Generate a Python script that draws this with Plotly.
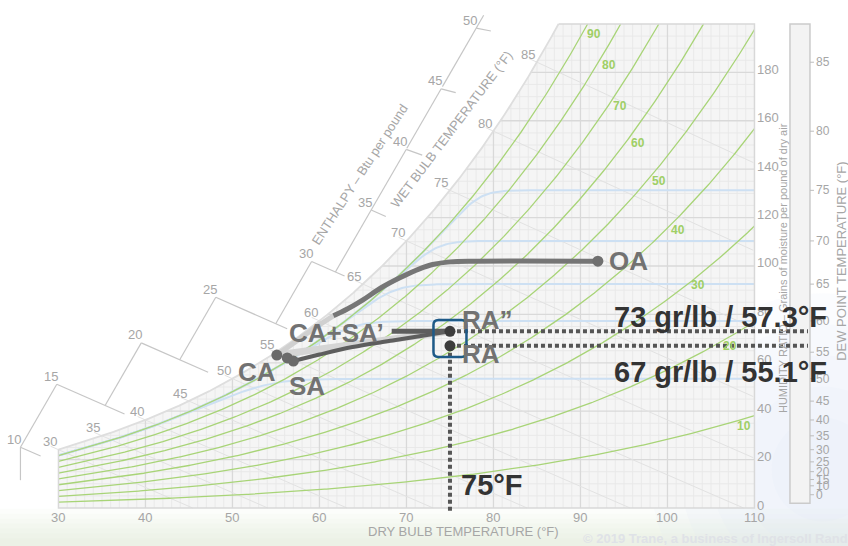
import numpy as np
import plotly.graph_objects as go

# ---------------- chart values ----------------
dry_bulb_ticks = [30, 40, 50, 60, 70, 80, 90, 100, 110]
grain_ticks = [0, 20, 40, 60, 80, 100, 120, 140, 160, 180]
dew_point_ticks = [0, 10, 15, 20, 25, 30, 35, 40, 45, 50, 55, 60, 65, 70, 75, 80, 85]
rh_percent = [10, 20, 30, 40, 50, 60, 70, 80, 90]
wet_bulb_ticks = [30, 35, 40, 45, 50, 55, 60, 65, 70, 75, 80, 85]
enthalpy_ticks = [10, 15, 20, 25, 30, 35, 40, 45, 50]
blue_dew_points = [50, 60, 65, 70, 75]

state_names = ["OA", "CA", "CA+SA’", "SA", "RA”", "RA"]
state_db = [92.0, 55.1, 56.3, 57.0, 75.0, 75.0]
state_gr = [102.0, 63.2, 62.0, 60.7, 73.0, 67.0]

oa_curve_db = [92.0, 78.0, 75.0, 73.0, 71.5, 69.3, 67.0, 65.0, 63.2, 61.6]
oa_curve_gr = [102.0, 102.0, 101.7, 100.6, 98.8, 95.2, 90.8, 86.0, 82.2, 79.4]
oa_fade_db = [61.6, 59.5, 57.3, 55.1]
oa_fade_gr = [79.4, 74.5, 68.8, 63.2]
sa_curve_db = [57.0, 60.0, 63.8, 68.4, 72.0, 75.0]
sa_curve_gr = [60.7, 63.4, 66.5, 69.2, 71.3, 73.0]

ra2_text = "73 gr/lb / 57.3°F"
ra_text = "67 gr/lb / 55.1°F"
db_text = "75°F"

# ---------------- frame ----------------
W_FIG, H_FIG = 848, 546
X0, X1 = 23.28, 120.75
Y0, Y1 = -15.7, 209.9
PX_T = W_FIG / (X1 - X0)
PX_G = H_FIG / (Y1 - Y0)
G_TOP = 200.0
T_MIN, T_MAX = 30.0, 110.0

FONT = "Liberation Sans, Arial, sans-serif"
GRAY_TXT = "#a6a6a6"


def to_px(t, g):
    return (np.asarray(t) - X0) * PX_T, (Y1 - np.asarray(g)) * PX_G


def to_data(px, py):
    return X0 + np.asarray(px) / PX_T, Y1 - np.asarray(py) / PX_G


# ---------------- psychrometrics (sea level, IP units) ----------------
P_ATM = 14.696


def p_ws(t):
    t = np.asarray(t, float)
    T = t + 459.67
    liq = np.exp(-1.0440397e4 / T - 1.1294650e1 - 2.7022355e-2 * T + 1.2890360e-5 * T**2
                 - 2.4780681e-9 * T**3 + 6.5459673 * np.log(T))
    ice = np.exp(-1.0214165e4 / T - 4.8932428 - 5.3765794e-3 * T + 1.9202377e-7 * T**2
                 + 3.5575832e-10 * T**3 - 9.0344688e-14 * T**4 + 4.1635019 * np.log(T))
    return np.where(t >= 32, liq, ice)


def grains(pw):
    return 7000 * 0.622 * pw / (P_ATM - pw)


def w_sat(t):
    return grains(p_ws(t))


def w_rh(t, rh):
    return grains(rh * p_ws(t))


def h_of(t, g):
    return 0.24 * t + g / 7000 * (1061 + 0.444 * t)


def g_on_h(t, h):
    return 7000 * (h - 0.24 * t) / (1061 + 0.444 * t)


def wb_line(t, twb):
    ws = w_sat(twb) / 7000
    return 7000 * ((1093 - 0.556 * twb) * ws - 0.24 * (t - twb)) / (1093 + 0.444 * t - twb)


T_FINE = np.arange(-10, 125, 0.01)
WS_FINE = w_sat(T_FINE)
HS_FINE = h_of(T_FINE, WS_FINE)


def t_dew(g):
    return np.interp(g, WS_FINE, T_FINE)


def t_sat_for_h(h):
    return np.interp(h, HS_FINE, T_FINE)


T_TOP = float(t_dew(G_TOP))

fig = go.Figure()


def add_line(xs, ys, color, width, dash=None, shape="linear"):
    fig.add_trace(go.Scatter(x=list(xs), y=list(ys), mode="lines",
                             line=dict(color=color, width=width, dash=dash, shape=shape),
                             hoverinfo="skip", cliponaxis=False, showlegend=False))


def joined(segments):
    xs, ys = [], []
    for sx, sy in segments:
        xs += list(sx) + [None]
        ys += list(sy) + [None]
    return xs, ys


shapes = []

# soft backdrop along the bottom and in the lower right corner
for i in range(7):
    shapes.append(dict(type="rect", xref="paper", yref="paper", x0=0, x1=1,
                       y0=0, y1=0.068 - i * 0.009,
                       fillcolor="rgba(206,222,200,0.07)", line=dict(width=0), layer="below"))
for i in range(5):
    r = 0.05 + i * 0.03
    shapes.append(dict(type="circle", xref="paper", yref="paper",
                       x0=0.97 - r * 1.2, x1=0.97 + r * 1.2, y0=0.14 - r * 1.9, y1=0.14 + r * 1.9,
                       fillcolor="rgba(220,230,243,0.12)", line=dict(width=0), layer="below"))

# ---------------- chart body ----------------
sat_t = np.linspace(T_MIN, T_TOP, 400)
body_x = [T_MIN, T_MAX, T_MAX] + list(sat_t[::-1]) + [T_MIN]
body_y = [0, 0, G_TOP] + list(w_sat(sat_t[::-1])) + [0]
fig.add_trace(go.Scatter(x=body_x, y=body_y, mode="lines", fill="toself", fillcolor="#f5f5f5",
                         line=dict(width=0), hoverinfo="skip", showlegend=False))

# grid
minor, major = [], []
for t in range(31, 110):
    top = min(float(w_sat(t)), G_TOP)
    (major if t % 10 == 0 else minor).append(([t, t], [0, top]))
for g in range(5, 200, 5):
    left = max(T_MIN, float(t_dew(g)))
    (major if g % 20 == 0 else minor).append(([left, T_MAX], [g, g]))
add_line(*joined(minor), "#e8e8e8", 0.9)
add_line(*joined(major), "#d9d9d9", 1.3)

# wet bulb lines
wb_segs = []
for twb in wet_bulb_ticks:
    ts = np.arange(twb - 0.9, T_MAX + 0.001, 0.25)
    gs = wb_line(ts, twb)
    keep = gs >= 0
    tt, gg = list(ts[keep]), list(gs[keep])
    if not keep.all():
        tt.append(float(np.interp(0, gs[::-1], ts[::-1])))
        gg.append(0.0)
    wb_segs.append((tt, gg))
add_line(*joined(wb_segs), "#e2e2e2", 1.0)

# light blue dew point curves
for dp in blue_dew_points:
    ts = np.arange(T_MIN, T_MAX + 0.001, 0.25)
    g0 = float(w_sat(dp))
    g90 = w_rh(ts, 0.9)
    k = 5.0
    gs = -k * np.logaddexp(-g0 / k, -g90 / k)
    add_line(ts, gs, "#cde0f3", 2.0)

# relative humidity curves
rh_label_gr = {10: 34, 20: 67, 30: 92, 40: 115, 50: 135, 60: 151, 70: 166, 80: 183, 90: 196}
rh_label_shift = {10: 15, 20: 7}
annotations = []


def label(x, y, text, size, color, xanchor="center", yanchor="middle", xshift=0, yshift=0,
          bold=False, angle=0):
    annotations.append(dict(x=x, y=y, xref="x", yref="y", text=f"<b>{text}</b>" if bold else text,
                            showarrow=False, font=dict(size=size, color=color, family=FONT),
                            xanchor=xanchor, yanchor=yanchor, xshift=xshift, yshift=yshift,
                            textangle=angle))


rh_segs = []
for r in rh_percent:
    ts = np.arange(T_MIN, T_MAX + 0.001, 0.2)
    gs = w_rh(ts, r / 100)
    keep = gs <= G_TOP
    tt, gg = list(ts[keep]), list(gs[keep])
    if not keep.all():
        tt.append(float(np.interp(G_TOP, gs, ts)))
        gg.append(G_TOP)
    rh_segs.append((tt, gg))
    lg = rh_label_gr[r]
    label(float(np.interp(lg, gs, ts)), lg, str(r), 12, "#9fcf66", xanchor="left",
          xshift=rh_label_shift.get(r, 3), bold=True)
add_line(*joined(rh_segs), "#a8d477", 1.3)

# outline: saturation curve, top, right and bottom edges
add_line(sat_t, w_sat(sat_t), "#dedede", 1.8)
add_line([T_TOP, T_MAX, T_MAX, T_MIN, T_MIN], [G_TOP, G_TOP, 0, 0, float(w_sat(T_MIN))], "#d8d8d8", 1.5)

# ---------------- enthalpy scale ----------------
u = np.array([0.5, -np.sqrt(3) / 2])


def node_at(h, off):
    t = float(t_sat_for_h(h)) - off
    return np.array([float(v) for v in to_px(t, g_on_h(t, h))])


def ray_to_h(start, h_target, direction):
    s = np.linspace(0, 200, 4001)
    pts = start[None, :] + s[:, None] * direction[None, :]
    t, g = to_data(pts[:, 0], pts[:, 1])
    hv = h_of(t, g) - h_target
    idx = np.where(np.sign(hv[:-1]) != np.sign(hv[1:]))[0][0]
    sc = s[idx] - hv[idx] * (s[idx + 1] - s[idx]) / (hv[idx + 1] - hv[idx])
    return start + sc * direction


def along_h(node, h, length):
    t0, _ = to_data(*node)
    ts = t0 + np.linspace(0, 25, 2501)
    px, py = to_px(ts, g_on_h(ts, h))
    d = np.hypot(px - node[0], py - node[1])
    te = float(np.interp(length, d, ts))
    return te, float(g_on_h(te, h))


step_offsets = {15: 9.75, 20: 10.0, 25: 9.8, 30: 5.9}
tick_len = {10: 22, 15: 74, 20: 73, 25: 78, 30: 36, 35: 16, 40: 17, 45: 15, 50: 15}
nodes = {h: node_at(h, off) for h, off in step_offsets.items()}
nodes[35] = node_at(35, 5.2)
for k, h in enumerate((40, 45, 50), start=1):
    nodes[h] = nodes[35] + k * 70 * u
nodes[10] = ray_to_h(nodes[15], 10, -u)

scale_segs = []
for h in enthalpy_ticks:
    n = nodes[h]
    nt, ng = to_data(*n)
    if h == 10:
        a = n + np.array([0, 33])
        at, ag = to_data(*a)
        scale_segs.append(([at, nt], [ag, ng]))
    else:
        st = ray_to_h(n, h - 5, -u)
        end = n + 15 * u if h == 50 else n
        s_t, s_g = to_data(*st)
        e_t, e_g = to_data(*end)
        scale_segs.append(([s_t, e_t], [s_g, e_g]))
    te, ge = along_h(n, h, tick_len[h])
    scale_segs.append(([nt, te], [ng, ge]))
    label(float(nt), float(ng), str(h), 13, GRAY_TXT, xshift=-6, yshift=8)
add_line(*joined(scale_segs), "#c6c6c6", 1.2)

label(64.6, 138.0, "ENTHALPY – Btu per pound", 13, GRAY_TXT, angle=-57)
label(75.2, 156.2, "WET BULB TEMPERATURE (°F)", 13, GRAY_TXT, angle=-53)

for twb in wet_bulb_ticks:
    label(twb, float(w_sat(twb)), str(twb), 13, GRAY_TXT, xshift=-8.5, yshift=8)

# ---------------- axes text ----------------
for t in dry_bulb_ticks:
    label(t, 0, str(t), 13, GRAY_TXT, yshift=-9)
label(76.6, -9.9, "DRY BULB TEMPERATURE (°F)", 13, GRAY_TXT)

for g in grain_ticks:
    label(T_MAX, g, str(g), 13, GRAY_TXT, xanchor="left", xshift=1, yshift=3)
label(113.35, 99.0, "HUMIDITY RATIO – Grains of moisture per pound of dry air", 11, GRAY_TXT, angle=-90)

# dew point panel
DP_X0, DP_X1 = 114.08, 116.38
shapes.append(dict(type="rect", xref="x", yref="y", x0=DP_X0, x1=DP_X1, y0=2, y1=G_TOP,
                   fillcolor="#f3f3f3", line=dict(color="#cbcbcb", width=1.5), layer="below"))
dp_segs = []
for dp in dew_point_ticks:
    g = float(w_sat(dp))
    dp_segs.append(([DP_X1, DP_X1 + 4 / PX_T], [g, g]))
    label(DP_X1, g, str(dp), 12, GRAY_TXT, xanchor="left", xshift=4)
add_line(*joined(dp_segs), "#bdbdbd", 1.0)
label(120.06, 101.7, "DEW POINT TEMPERATURE (°F)", 13, GRAY_TXT, angle=-90)

# ---------------- process lines ----------------
name_idx = {n: i for i, n in enumerate(state_names)}
oa = name_idx["OA"]
ca = name_idx["CA"]
mix = name_idx["CA+SA’"]
sa = name_idx["SA"]
ra2 = name_idx["RA”"]
ra = name_idx["RA"]

add_line([state_db[ca], state_db[ra2]], [state_gr[ca], state_gr[ra2]], "#d5d5d5", 7)
add_line(oa_fade_db, oa_fade_gr, "#d0d0d0", 5, shape="spline")
add_line(oa_curve_db, oa_curve_gr, "#767676", 5, shape="spline")
add_line(sa_curve_db, sa_curve_gr, "#5e5e5e", 4, shape="spline")
add_line([68.3, state_db[ra2]], [state_gr[ra2], state_gr[ra2]], "#5e5e5e", 5)

dot_dash = "4px,3px"
add_line([state_db[ra2], 116.15], [state_gr[ra2]] * 2, "#555555", 4, dash=dot_dash)
add_line([state_db[ra], 116.15], [state_gr[ra]] * 2, "#555555", 4, dash=dot_dash)
add_line([state_db[ra]] * 2, [state_gr[ra], -1.3], "#555555", 4, dash=dot_dash)

dot_colors = ["#707070", "#6a6a6a", "#6a6a6a", "#6a6a6a", "#3c3c3c", "#3c3c3c"]
fig.add_trace(go.Scatter(x=state_db, y=state_gr, mode="markers",
                         marker=dict(size=11, color=dot_colors, line=dict(width=0)),
                         hoverinfo="skip", showlegend=False, cliponaxis=False))

# box around the return air states
box_t = state_db[ra]
box_g = (state_gr[ra] + state_gr[ra2]) / 2
shapes.append(dict(type="path", xref="x", yref="y", xsizemode="pixel", ysizemode="pixel",
                   xanchor=box_t, yanchor=box_g,
                   path="M -16.5 -13.5 Q -16.5 -18.5 -11.5 -18.5 L 11.5 -18.5 Q 16.5 -18.5 16.5 -13.5 "
                        "L 16.5 13.5 Q 16.5 18.5 11.5 18.5 L -11.5 18.5 Q -16.5 18.5 -16.5 13.5 Z",
                   line=dict(color="#1e5a88", width=2.5)))

# state labels
LBL = "#727272"
label(state_db[oa], state_gr[oa], "OA", 26, LBL, xanchor="left", xshift=9, bold=True)
label(state_db[ca], state_gr[ca], "CA", 26, LBL, xanchor="right", xshift=1, yshift=-17, bold=True)
label(state_db[mix], state_gr[mix], "CA+SA’", 26, LBL, xanchor="left", xshift=0, yshift=25, bold=True)
label(state_db[sa], state_gr[sa], "SA", 26, LBL, xanchor="left", xshift=-6, yshift=-25, bold=True)
label(state_db[ra2], state_gr[ra2], "RA”", 26, LBL, xanchor="left", xshift=10, yshift=11, bold=True)
label(state_db[ra], state_gr[ra], "RA", 26, LBL, xanchor="left", xshift=10, yshift=-8, bold=True)

DARK = "#333333"
label(93.6, state_gr[ra2], ra2_text, 29, DARK, xanchor="left", yshift=14, bold=True)
label(93.6, state_gr[ra], ra_text, 29, DARK, xanchor="left", yshift=-26, bold=True)
label(state_db[ra], 0, db_text, 29, DARK, xanchor="left", xshift=9, yshift=23, bold=True)

annotations.append(dict(x=90.06, y=-12.4, xref="x", yref="y", showarrow=False,
                        text="<b>© 2019 Trane, a business of Ingersoll Rand</b>", xanchor="left",
                        font=dict(size=13, color="#dfe2e7", family=FONT)))

fig.update_layout(
    width=W_FIG, height=H_FIG, margin=dict(l=0, r=0, t=0, b=0),
    paper_bgcolor="white", plot_bgcolor="rgba(0,0,0,0)",
    xaxis=dict(range=[X0, X1], visible=False, fixedrange=True),
    yaxis=dict(range=[Y0, Y1], visible=False, fixedrange=True),
    showlegend=False, annotations=annotations, shapes=shapes,
)

fig.write_html("out.html")
